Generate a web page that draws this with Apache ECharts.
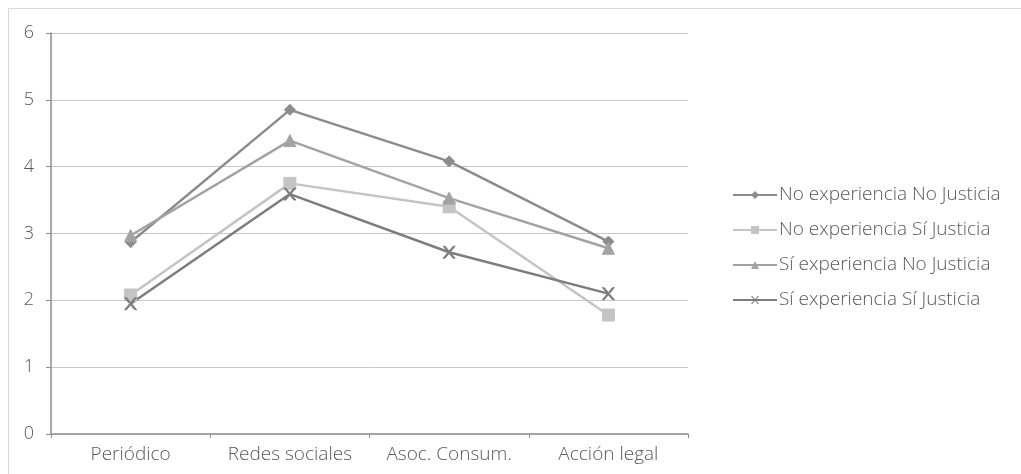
<!DOCTYPE html>
<html>
<head>
<meta charset="utf-8">
<script src="https://cdn.jsdelivr.net/npm/echarts@6/dist/echarts.min.js"></script>
<style>
  html, body { margin: 0; padding: 0; background: #ffffff; }
  #chart { width: 1021px; height: 474px; }
</style>
</head>
<body>
<div id="chart"></div>
<script>
// Categories along the x axis
const categories = ['Periódico', 'Redes sociales', 'Asoc. Consum.', 'Acción legal'];

// Mean scores per group
const noExpNoJus = [2.87, 4.85, 4.08, 2.88];
const noExpSiJus = [2.08, 3.75, 3.40, 1.78];
const siExpNoJus = [2.97, 4.39, 3.53, 2.78];
const siExpSiJus = [1.95, 3.59, 2.72, 2.10];

const seriesNames = [
  'No experiencia No Justicia',
  'No experiencia Sí Justicia',
  'Sí experiencia No Justicia',
  'Sí experiencia Sí Justicia'
];

const fontFamily = '"Open Sans", "Noto Sans", sans-serif';
const textColor = '#595959';

function line(name, data, color, symbol, size) {
  return {
    name: name,
    type: 'line',
    data: data,
    symbol: symbol,
    symbolSize: size,
    showSymbol: true,
    lineStyle: { color: color, width: 2.5 },
    itemStyle: { color: color, borderColor: color },
    emphasis: { disabled: true }
  };
}

const chart = echarts.init(document.getElementById('chart'), null, { renderer: 'canvas' });

chart.setOption({
  animation: false,
  backgroundColor: '#ffffff',
  graphic: [
    { type: 'line', shape: { x1: 8.5, y1: 8.5, x2: 1021, y2: 8.5 }, style: { stroke: '#d9d9d9', lineWidth: 1 } },
    { type: 'line', shape: { x1: 8.5, y1: 8.5, x2: 8.5, y2: 474 }, style: { stroke: '#d9d9d9', lineWidth: 1 } }
  ],
  grid: { left: 51, right: 333, top: 33, bottom: 40, containLabel: false },
  legend: {
    orient: 'vertical',
    left: 727,
    top: 178,
    itemWidth: 44,
    itemHeight: 10,
    itemGap: 11,
    textStyle: { color: textColor, fontSize: 19, fontWeight: 300, fontFamily: fontFamily, padding: [0, 0, 0, -3], lineHeight: 24 },
    data: seriesNames
  },
  xAxis: {
    type: 'category',
    data: categories,
    boundaryGap: true,
    axisLine: { lineStyle: { color: '#8e8e8e', width: 1.5 } },
    axisTick: { show: true, length: 4, lineStyle: { color: '#8e8e8e' } },
    axisLabel: { color: textColor, fontSize: 19, fontWeight: 300, fontFamily: fontFamily, margin: 11, interval: 0, hideOverlap: false },
    splitLine: { show: false }
  },
  yAxis: {
    type: 'value',
    min: 0,
    max: 6,
    interval: 1,
    axisLine: { show: true, lineStyle: { color: '#8e8e8e', width: 1.5 } },
    axisTick: { show: true, length: 5, lineStyle: { color: '#8e8e8e' } },
    axisLabel: { color: textColor, fontSize: 18, fontWeight: 300, fontFamily: fontFamily, margin: 17 },
    splitLine: { show: true, lineStyle: { color: '#c8c8c8', width: 1 } }
  },
  series: [
    line(seriesNames[0], noExpNoJus, '#8c8c8e', 'diamond', 11),
    line(seriesNames[1], noExpSiJus, '#c4c4c4', 'rect', 12),
    line(seriesNames[2], siExpNoJus, '#a3a3a3', 'triangle', 12),
    line(seriesNames[3], siExpSiJus, '#7d7d7d',
      'path://M0,0 L1.6,0 L5,4 L8.4,0 L10,0 L5.8,5 L10,10 L8.4,10 L5,6 L1.6,10 L0,10 L4.2,5 Z', 12)
  ]
});
</script>
</body>
</html>
